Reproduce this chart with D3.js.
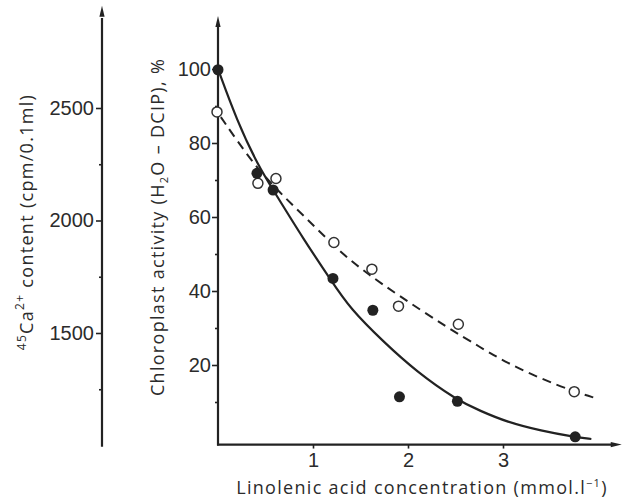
<!DOCTYPE html>
<head>
  <meta charset="utf-8">
  <script src="https://d3js.org/d3.v7.min.js"></script>
  <style>
    body { margin: 0; background: #fff; }
    svg { font-family: "Open Sans", Lato, sans-serif; }
    .tick text { font-size: 20px; fill: #2b2b2b; }
    .tick line { stroke: #222; stroke-width: 1.6px; }
    .title { font-size: 18px; fill: #2b2b2b; letter-spacing: 1.3px; }
  </style>
</head>
<body>
  <div id="vis"></div>
  <script>

    // measured points (linolenic acid mmol/l, activity %)
    var filledPts = [
      [0, 99.8], [0.41, 71.8], [0.58, 67.3], [1.21, 43.4],
      [1.63, 34.8], [1.91, 11.4], [2.52, 10.2], [3.76, 0.6]
    ];
    var openPts = [
      [0, 88.4], [0.42, 69.1], [0.61, 70.4], [1.22, 53.1],
      [1.62, 45.9], [1.90, 35.9], [2.53, 31.0], [3.75, 12.8]
    ];

    // fitted curves as drawn in the figure
    var solidCurve = [
      [0, 100], [0.2, 86], [0.42, 74], [0.6, 66.5], [0.9, 54], [1.2, 42.5],
      [1.39, 35.3], [1.74, 26.3], [2.09, 18.2], [2.51, 10.6], [2.76, 7.6],
      [3.04, 4.6], [3.4, 2.2], [3.76, 0.5], [3.93, 0]
    ];
    var dashedCurve = [
      [0.03, 87], [0.39, 73.6], [0.7, 65.3], [1.02, 57.4], [1.32, 49.7],
      [1.6, 44.2], [1.86, 39.5], [2.41, 30.2], [2.76, 24.8], [3.04, 20.6],
      [3.4, 16.3], [3.74, 12.9], [3.98, 11]
    ];

    var xTicks = [1, 2, 3];
    var yMajor = [20, 40, 60, 80, 100];
    var yMinor = [10, 30, 50, 70, 90];
    var caMajor = [1500, 2000, 2500];
    var caMinor = [1250, 1750, 2250];

    var width = 624, height = 502;
    var ink = "#222";

    var svg = d3.select("#vis")
      .append("svg")
      .attr("width", width)
      .attr("height", height);

    var x = d3.scaleLinear().domain([0, 4.25]).range([218, 621.75]);
    var y = d3.scaleLinear().domain([0, 100]).range([439, 69]);
    var yCa = d3.scaleLinear().domain([1000, 2500]).range([445.5, 108]);

    function arrow(tipX, tipY, dir) {
      // narrow filled arrowhead; dir "up" or "right"
      var p = dir == "up"
        ? [[tipX, tipY], [tipX - 2.6, tipY + 11], [tipX + 2.6, tipY + 11]]
        : [[tipX, tipY], [tipX - 11, tipY - 2.6], [tipX - 11, tipY + 2.6]];
      svg.append("path")
        .attr("d", "M" + p.join("L") + "Z")
        .attr("fill", ink);
    }

    ////////// left axis (45Ca content) //////////

    var caX = 102;
    var caAxis = svg.append("g").attr("transform", "translate(" + caX + ",0)");
    caAxis.append("g")
      .call(d3.axisLeft(yCa).tickValues(caMajor).tickSize(6).tickPadding(2).tickFormat(d3.format("d")))
      .call(g => g.select(".domain").remove());
    caAxis.append("g")
      .call(d3.axisLeft(yCa).tickValues(caMinor).tickSize(3).tickFormat(""))
      .call(g => g.select(".domain").remove());
    svg.append("line")
      .attr("x1", caX).attr("x2", caX)
      .attr("y1", yCa(995)).attr("y2", yCa(2900))
      .attr("stroke", ink).attr("stroke-width", 2.2);
    arrow(caX, yCa(2955), "up");

    ////////// right axis (activity) //////////

    var yAxis = svg.append("g").attr("transform", "translate(" + x(0) + ",0)");
    yAxis.append("g")
      .call(d3.axisLeft(y).tickValues(yMajor).tickSize(6).tickPadding(1).tickFormat(d3.format("d")))
      .call(g => g.select(".domain").remove());
    yAxis.append("g")
      .call(d3.axisLeft(y).tickValues(yMinor).tickSize(3).tickFormat(""))
      .call(g => g.select(".domain").remove());

    var axisY = y(-1.5);
    svg.append("line")
      .attr("x1", x(0)).attr("x2", x(0))
      .attr("y1", axisY + 1).attr("y2", y(112))
      .attr("stroke", ink).attr("stroke-width", 2.2);
    arrow(x(0), y(114.3), "up");

    ////////// x axis //////////

    var xAxis = svg.append("g").attr("transform", "translate(0," + axisY + ")");
    xAxis.append("g")
      .call(d3.axisBottom(x).tickValues(xTicks).tickSize(4).tickPadding(4).tickFormat(d3.format("d")))
      .call(g => g.select(".domain").remove());
    svg.append("line")
      .attr("x1", x(0) - 1).attr("x2", x(4.15))
      .attr("y1", axisY).attr("y2", axisY)
      .attr("stroke", ink).attr("stroke-width", 2.2);
    arrow(x(4.25), axisY, "right");

    ////////// titles //////////

    var xTitle = svg.append("text")
      .attr("class", "title")
      .attr("x", 422).attr("y", 494)
      .attr("text-anchor", "middle");
    xTitle.append("tspan").text("Linolenic acid concentration (mmol.l");
    xTitle.append("tspan").attr("dy", -7).attr("font-size", 11).text("\u22121");
    xTitle.append("tspan").attr("dy", 7).text(")");

    var yTitle = svg.append("text")
      .attr("class", "title")
      .attr("transform", "translate(164,227) rotate(-90)")
      .attr("text-anchor", "middle");
    yTitle.append("tspan").text("Chloroplast activity (H");
    yTitle.append("tspan").attr("dy", 4).attr("font-size", 11).text("2");
    yTitle.append("tspan").attr("dy", -4).text("O \u2013 DCIP), %");

    var caTitle = svg.append("text")
      .attr("class", "title")
      .attr("transform", "translate(33,222) rotate(-90)")
      .attr("text-anchor", "middle");
    caTitle.append("tspan").attr("dy", -7).attr("font-size", 12).text("45");
    caTitle.append("tspan").attr("dy", 7).text("Ca");
    caTitle.append("tspan").attr("dy", -9).attr("font-size", 12).text("2+");
    caTitle.append("tspan").attr("dy", 9).text("  content (cpm/0.1ml)");

    ////////// curves and points //////////

    var line = d3.line()
      .x(d => x(d[0]))
      .y(d => y(d[1]))
      .curve(d3.curveBasis);

    svg.append("path")
      .datum(dashedCurve)
      .attr("d", line)
      .attr("fill", "none")
      .attr("stroke", ink)
      .attr("stroke-width", 2)
      .attr("stroke-dasharray", "9,6");

    svg.append("path")
      .datum(solidCurve)
      .attr("d", line)
      .attr("fill", "none")
      .attr("stroke", ink)
      .attr("stroke-width", 2.2);

    svg.selectAll(".open")
      .data(openPts)
      .enter().append("circle")
      .attr("class", "open")
      .attr("cx", d => x(d[0]) - (d[0] == 0 ? 1 : 0))
      .attr("cy", d => y(d[1]))
      .attr("r", 5)
      .attr("fill", "#fff")
      .attr("stroke", "#333")
      .attr("stroke-width", 1.5);

    svg.selectAll(".filled")
      .data(filledPts)
      .enter().append("circle")
      .attr("class", "filled")
      .attr("cx", d => x(d[0]))
      .attr("cy", d => y(d[1]))
      .attr("r", 5.5)
      .attr("fill", ink);

  </script>
</body>
